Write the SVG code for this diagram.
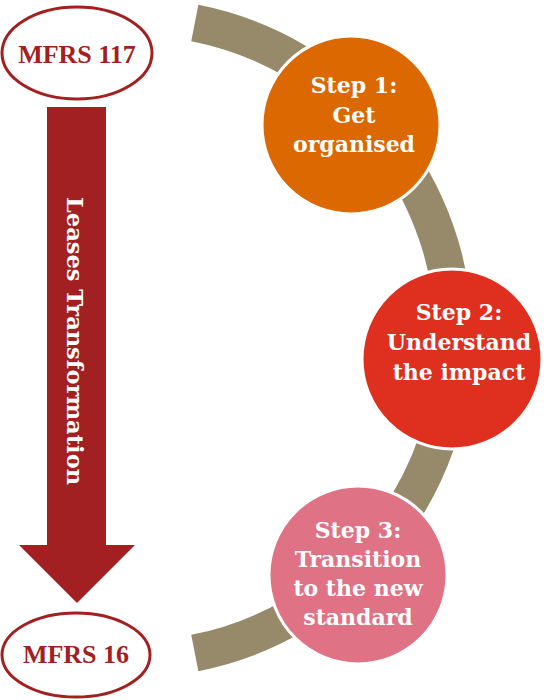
<svg xmlns="http://www.w3.org/2000/svg" width="555" height="700" viewBox="0 0 555 700">
  <style>
    .step { font-family: "DejaVu Serif", "Liberation Serif", serif; font-weight: bold; font-size: 22px; fill: #ffffff; text-anchor: middle; }
    .lease { font-family: "DejaVu Serif", "Liberation Serif", serif; font-weight: bold; font-size: 22.5px; fill: #ffffff; text-anchor: middle; }
    .mfrs { font-family: "Liberation Serif", "DejaVu Serif", serif; font-weight: bold; font-size: 26px; fill: #a32020; text-anchor: middle; }
    .oval { fill: #ffffff; stroke: #a32020; stroke-width: 3; }
    .circ { stroke: #ffffff; stroke-width: 3; }
  </style>
  <rect width="555" height="700" fill="#ffffff"/>
  <g id="connectors">
    <path id="band" d="M 194.8 23 A 321 321 0 0 1 194.8 653" fill="none" stroke="#968a6b" stroke-width="37"/>
    <path id="arrow" d="M 47 107 L 106 107 L 106 545 L 135 545 L 77 603 L 19 545 L 47 545 Z" fill="#a21f22"/>
    <text class="lease" transform="translate(67,341) rotate(90)">Leases Transformation</text>
  </g>
  <g id="mfrs117">
    <ellipse class="oval" cx="77" cy="53" rx="75" ry="46"/>
    <text class="mfrs" x="77" y="63">MFRS 117</text>
  </g>
  <g id="mfrs16">
    <ellipse class="oval" cx="76" cy="655" rx="74" ry="42"/>
    <text class="mfrs" x="76" y="663">MFRS 16</text>
  </g>
  <g id="step1">
    <circle class="circ" cx="351" cy="125" r="89" fill="#db6800"/>
    <text class="step" x="354" y="93">Step 1:</text>
    <text class="step" x="354" y="123">Get</text>
    <text class="step" x="354" y="152">organised</text>
  </g>
  <g id="step2">
    <circle class="circ" cx="452" cy="359" r="90" fill="#df301f"/>
    <text class="step" x="459" y="320">Step 2:</text>
    <text class="step" x="459" y="350">Understand</text>
    <text class="step" x="459" y="380">the impact</text>
  </g>
  <g id="step3">
    <circle class="circ" cx="358" cy="575" r="89" fill="#e07285"/>
    <text class="step" x="358" y="538">Step 3:</text>
    <text class="step" x="358" y="567">Transition</text>
    <text class="step" x="358" y="596">to the new</text>
    <text class="step" x="358" y="625">standard</text>
  </g>
</svg>
